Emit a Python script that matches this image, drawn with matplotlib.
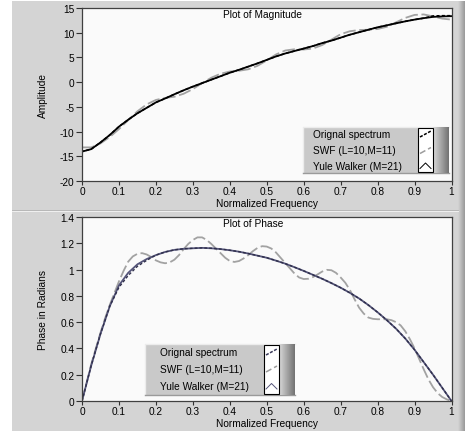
import numpy as np
import matplotlib
matplotlib.use("Agg")
import matplotlib.pyplot as plt
from matplotlib.patches import Rectangle
from matplotlib.lines import Line2D

plt.rcParams['font.family'] = ['Liberation Sans', 'DejaVu Sans']
plt.rcParams['font.size'] = 7.3

W, H = 472, 435

# datos
freq = np.round(np.arange(41) * 0.025, 4)
freq_fino = np.round(np.arange(81) * 0.0125, 4)
freq_orig = np.concatenate([[0.0], freq])

mag_yw = [-14.05, -13.55, -12.2, -10.7, -9.0, -7.6, -6.3, -5.2, -4.1, -3.3,
          -2.45, -1.65, -0.9, -0.2, 0.5, 1.2, 1.9, 2.5, 3.15, 3.8,
          4.5, 5.2, 5.8, 6.3, 6.8, 7.3, 7.9, 8.4, 9.0, 9.6,
          10.1, 10.6, 11.1, 11.5, 11.9, 12.3, 12.65, 12.95, 13.2, 13.3, 13.35]
mag_orig = [-17.5] + mag_yw[:38] + [13.4, 13.45, 13.45]
mag_swf = [-13.2, -13.2, -12.4, -11.1, -9.5, -7.7, -5.9, -4.5, -3.6, -3.2,
           -2.95, -2.35, -1.4, -0.2, 0.9, 1.7, 2.15, 2.3, 2.6, 3.3,
           4.4, 5.6, 6.4, 6.65, 6.6, 6.8, 7.5, 8.6, 9.7, 10.3,
           10.55, 10.6, 10.75, 11.2, 12.1, 13.0, 13.6, 13.7, 13.3, 12.85, 12.65]

fase_yw = [0, 0.27, 0.51, 0.72, 0.88, 0.975, 1.04, 1.08, 1.11, 1.134,
           1.15, 1.158, 1.162, 1.165, 1.162, 1.156, 1.147, 1.136, 1.122, 1.106,
           1.09, 1.068, 1.045, 1.018, 0.99, 0.96, 0.93, 0.897, 0.862, 0.823,
           0.78, 0.73, 0.675, 0.615, 0.55, 0.475, 0.39, 0.295, 0.2, 0.1, 0]
fase_orig = [0] + fase_yw[:4] + [0.865, 0.955, 1.025, 1.07] + fase_yw[8:]
fase_swf = [0, 0.14, 0.28, 0.40, 0.52, 0.63, 0.73, 0.82, 0.91, 0.99,
            1.06, 1.10, 1.12, 1.125, 1.115, 1.095, 1.07, 1.055, 1.048, 1.055,
            1.075, 1.11, 1.155, 1.195, 1.225, 1.245, 1.245, 1.225, 1.195, 1.16,
            1.125, 1.09, 1.065, 1.058, 1.065, 1.085, 1.11, 1.14, 1.165, 1.178,
            1.175, 1.16, 1.13, 1.09, 1.05, 1.01, 0.97, 0.94, 0.928, 0.93,
            0.943, 0.963, 0.985, 0.998, 0.995, 0.975, 0.94, 0.9, 0.845, 0.775,
            0.71, 0.665, 0.635, 0.625, 0.622, 0.622, 0.622, 0.615, 0.6, 0.575,
            0.53, 0.47, 0.40, 0.32, 0.24, 0.165, 0.105, 0.06, 0.03, 0.012, 0]

etiquetas = ['Orignal spectrum', 'SWF (L=10,M=11)', 'Yule Walker (M=21)']
xticks = [0, 0.1, 0.2, 0.3, 0.4, 0.5, 0.6, 0.7, 0.8, 0.9, 1]
xticklabels = ['0', '0.1', '0.2', '0.3', '0.4', '0.5', '0.6', '0.7', '0.8', '0.9', '1']


def fx(x):
    return x / W


def fy(y):
    return 1 - y / H


fig = plt.figure(figsize=(W / 100, H / 100), dpi=100, facecolor='white')

# panel gris de fondo
fig.patches.append(Rectangle((fx(12), fy(432)), fx(453), 430 / H, transform=fig.transFigure,
                             facecolor='#d4d4d4', edgecolor='none', zorder=-10))
borde = fig.add_axes([fx(458), fy(432), fx(7), 430 / H], zorder=-5)
borde.imshow(np.linspace(0.83, 0.6, 20)[None, :], cmap='gray', vmin=0, vmax=1, aspect='auto')
borde.axis('off')
fig.add_artist(Line2D([fx(12), fx(458)], [fy(210.5), fy(210.5)], color='#b8b8b8', lw=0.7, zorder=-4))
fig.add_artist(Line2D([fx(12), fx(458)], [fy(211.7), fy(211.7)], color='#f0f0f0', lw=0.7, zorder=-4))


def preparar_eje(ax, ylim, yticks, yticklabels, titulo, ylabel, alto):
    ax.set_facecolor('#fafafa')
    ax.set_xlim(0, 1)
    ax.set_ylim(*ylim)
    ax.set_xticks(xticks)
    ax.set_xticklabels(xticklabels)
    ax.set_yticks(yticks)
    ax.set_yticklabels(yticklabels)
    ax.tick_params(axis='y', length=4, width=0.8, color='#303030', pad=1.5)
    ax.tick_params(axis='x', length=3, width=0.8, color='#303030', pad=0.8)
    for s in ax.spines.values():
        s.set_color('#404040')
        s.set_linewidth(0.9)
    ax.set_xlabel('Normalized Frequency', labelpad=1.5)
    ax.set_ylabel(ylabel)
    ax.yaxis.set_label_coords(-0.092, 0.5)
    ax.text(0.381, 1 - 6.5 / alto, titulo, transform=ax.transAxes, ha='left', va='center')


def dibujar_leyenda(x0, y0, x1, y1, xcaja, filas_y, texto_x, col_orig, col_yw):
    fig.patches.append(Rectangle((fx(x0), fy(y1)), fx(xcaja - x0), (y1 - y0) / H,
                                 transform=fig.transFigure, facecolor='#c9c9c9',
                                 edgecolor='none', zorder=5))
    fig.add_artist(Line2D([fx(x0), fx(x0), fx(x1)], [fy(y1), fy(y0), fy(y0)],
                          color='#ececec', lw=1, zorder=6))
    fig.add_artist(Line2D([fx(x0), fx(x1)], [fy(y1), fy(y1)], color='#9a9a9a', lw=1, zorder=6))
    fig.patches.append(Rectangle((fx(xcaja), fy(y1 - 1)), fx(15), (y1 - y0 - 2) / H,
                                 transform=fig.transFigure, facecolor='white',
                                 edgecolor='black', lw=0.8, zorder=6))
    grad = fig.add_axes([fx(xcaja + 15), fy(y1), fx(x1 - xcaja - 15), (y1 - y0) / H], zorder=6)
    grad.imshow(np.linspace(0.85, 0.45, 30)[None, :], cmap='gray', vmin=0, vmax=1, aspect='auto')
    grad.axis('off')
    for yy, txt in zip(filas_y, etiquetas):
        fig.text(fx(texto_x), fy(yy), txt, ha='left', va='center', zorder=7)
    xa = xcaja + 2
    fig.add_artist(Line2D([fx(xa), fx(xa + 11)], [fy(filas_y[0] + 3), fy(filas_y[0] - 3)],
                          color=col_orig, lw=1.1, ls=(0, (2, 1)), zorder=8))
    fig.add_artist(Line2D([fx(xa), fx(xa + 11)], [fy(filas_y[1] + 3), fy(filas_y[1] - 3)],
                          color='#9c9c9c', lw=1.1, ls=(0, (4, 2)), zorder=8))
    fig.add_artist(Line2D([fx(xa), fx(xa + 5.5), fx(xa + 11)],
                          [fy(filas_y[2] + 3), fy(filas_y[2] - 2.5), fy(filas_y[2] + 3)],
                          color=col_yw, lw=0.7, zorder=8))


# magnitud
ax1 = fig.add_axes([fx(82), fy(182), fx(369.5), 173 / H])
preparar_eje(ax1, (-20, 15), list(range(-20, 16, 5)),
             [str(v) for v in range(-20, 16, 5)], 'Plot of Magnitude', 'Amplitude', 173)
ax1.plot(freq, mag_swf, color='#a2a2a2', lw=1.3, ls=(0, (7, 2)))
ax1.plot(freq, mag_yw, color='black', lw=1.3)
ax1.plot(freq_orig, mag_orig, color='black', lw=1.1, ls=(0, (2, 1.5)))

# fase
ax2 = fig.add_axes([fx(82), fy(402), fx(369.5), 184 / H])
preparar_eje(ax2, (0, 1.4), [0, 0.2, 0.4, 0.6, 0.8, 1, 1.2, 1.4],
             ['0', '0.2', '0.4', '0.6', '0.8', '1', '1.2', '1.4'],
             'Plot of Phase', 'Phase in Radians', 184)
ax2.plot(freq_fino, fase_swf, color='#a2a2a2', lw=1.3, ls=(0, (7, 2)))
ax2.plot(freq, fase_yw, color='#55557a', lw=1.3)
ax2.plot(freq_orig, fase_orig, color='#2e2e4a', lw=1.0, ls=(0, (2, 1.5)))

dibujar_leyenda(303, 128, 449, 174, 418, [135, 151.5, 166.5], 313, 'black', 'black')
dibujar_leyenda(145, 345, 295, 396, 264, [353, 370, 387], 160.5, '#3a3a5a', '#55557a')

fig.savefig('out.png', dpi=100)
